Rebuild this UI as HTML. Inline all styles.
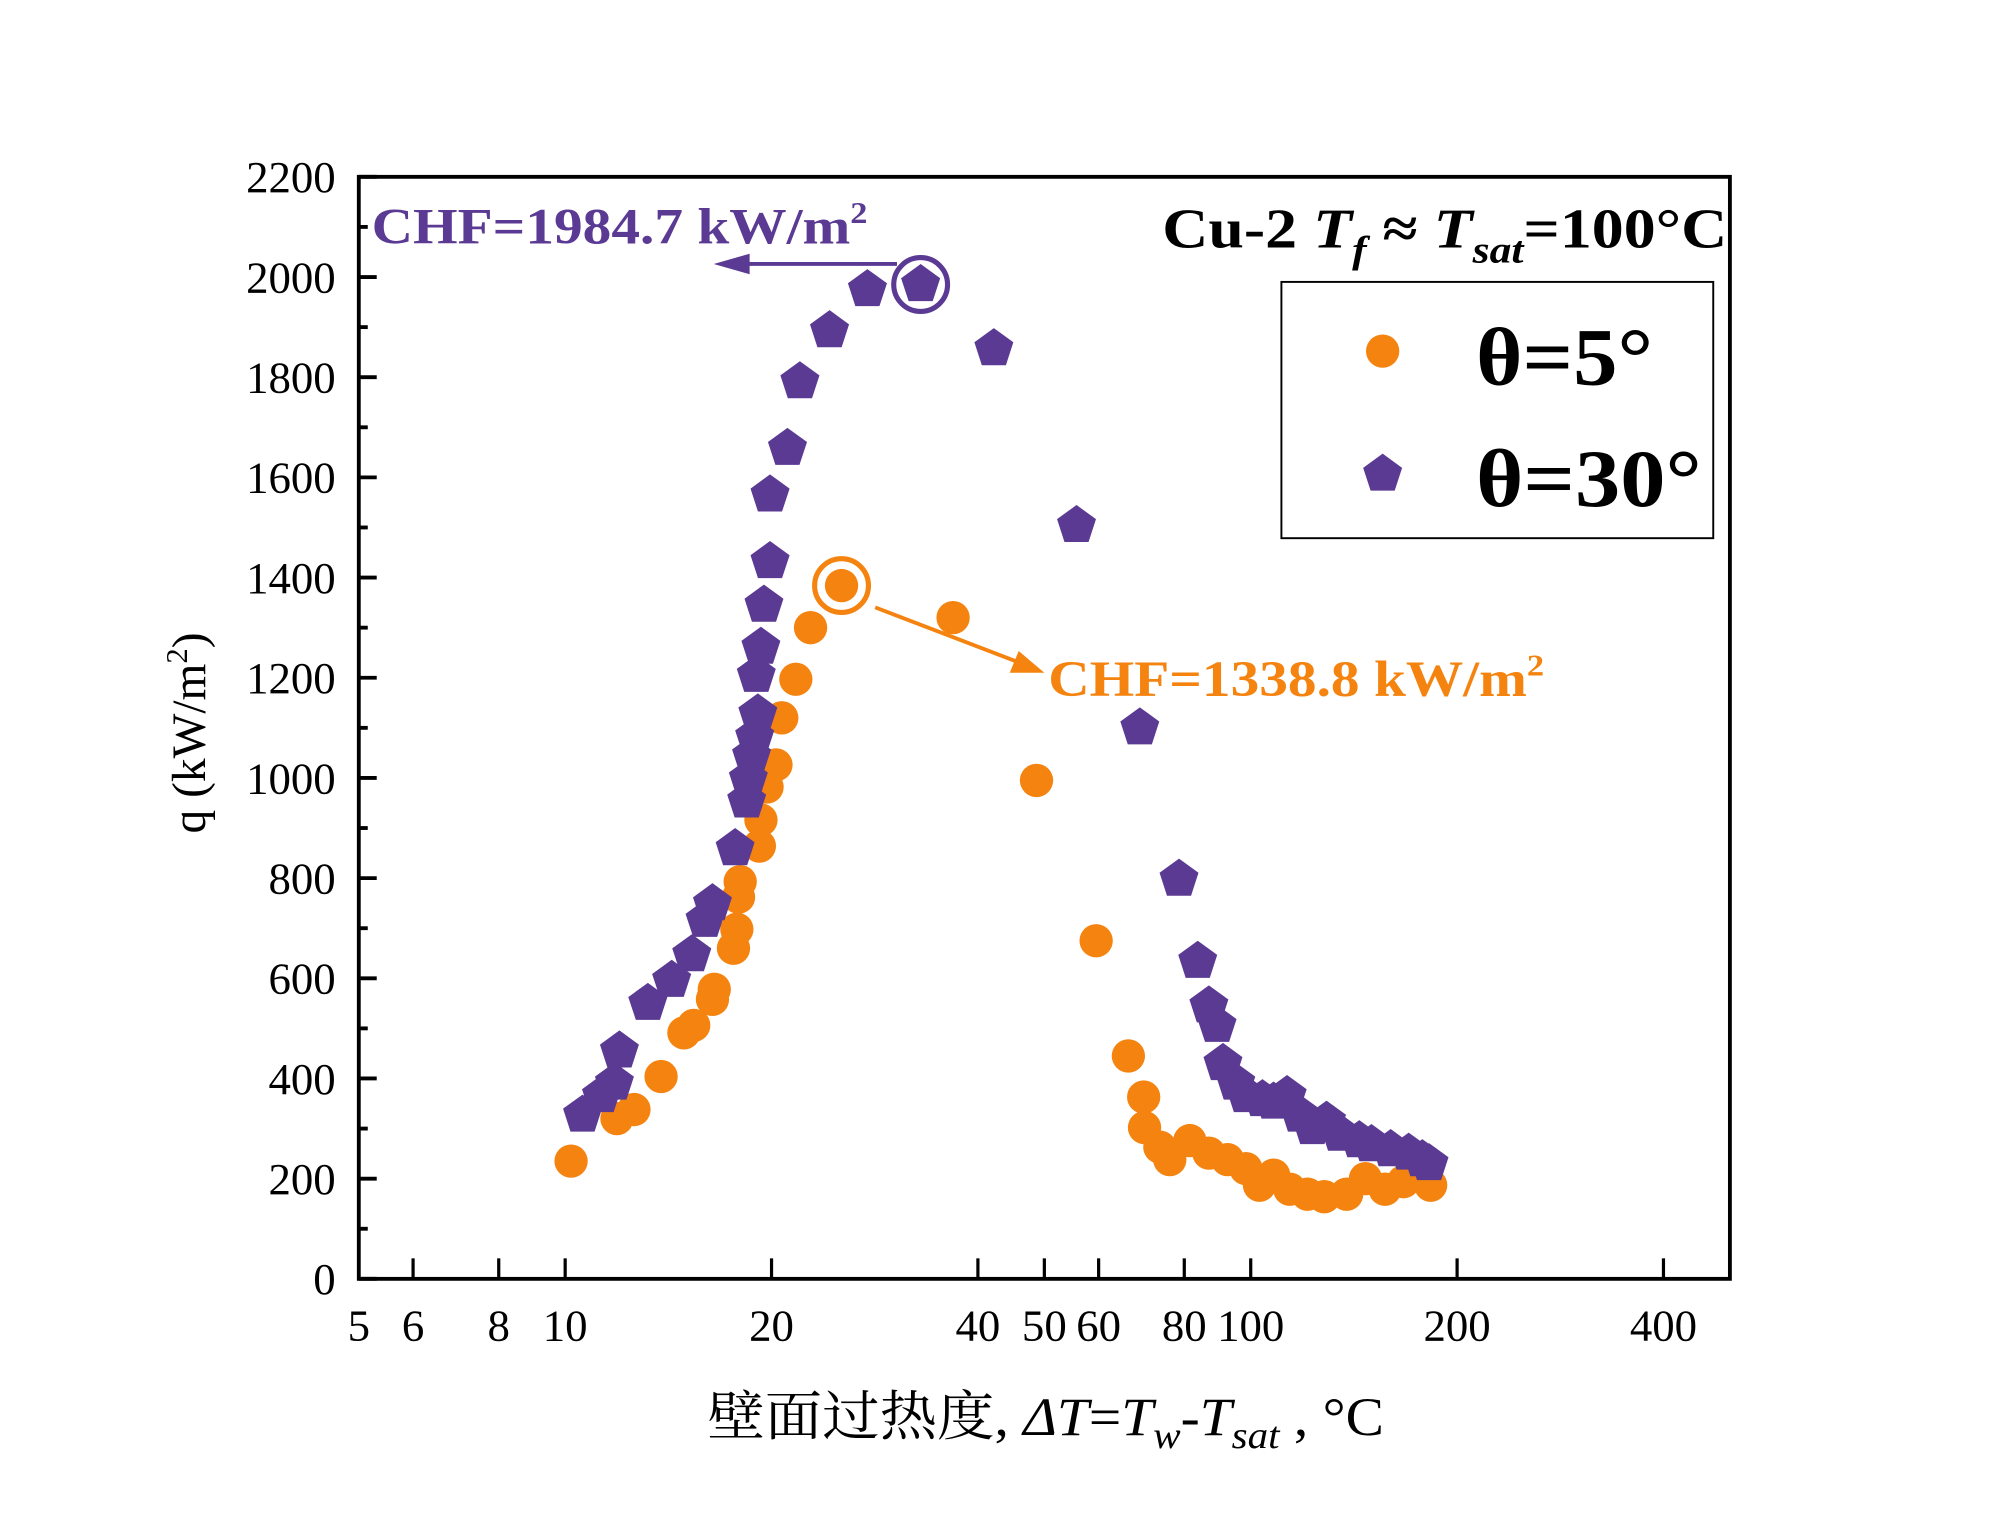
<!DOCTYPE html>
<html><head><meta charset="utf-8"><style>body{margin:0;background:#fff}svg{display:block}</style></head>
<body>
<svg id="chart" width="1999" height="1530" viewBox="0 0 1560 1194" preserveAspectRatio="none" xmlns="http://www.w3.org/2000/svg" font-family="'Liberation Serif','Noto Serif CJK SC',serif">
<g id="axes"></g>
<g id="marks"></g>
<g>
  <text x="290" y="190" font-size="40" font-weight="bold" fill="#5b3a94" textLength="387" lengthAdjust="spacingAndGlyphs">CHF=1984.7 kW/m<tspan dy="-16" font-size="24">2</tspan></text>
  <line x1="700" y1="206" x2="575" y2="206" stroke="#5b3a94" stroke-width="3"/>
  <polygon points="557,206 585,198 585,214" fill="#5b3a94"/>
  <text x="818" y="543" font-size="40" font-weight="bold" fill="#f5830f" textLength="387" lengthAdjust="spacingAndGlyphs">CHF=1338.8 kW/m<tspan dy="-16" font-size="24">2</tspan></text>
  <line x1="683" y1="474" x2="798" y2="518" stroke="#f5830f" stroke-width="3"/>
  <polygon points="815,525 788,525 795,508" fill="#f5830f"/>
  <text x="907" y="193" font-size="44" font-weight="bold" textLength="441" lengthAdjust="spacingAndGlyphs">Cu-2  <tspan font-style="italic">T</tspan><tspan font-style="italic" font-size="30" dy="12">f</tspan><tspan dy="-12"> ≈ </tspan><tspan font-style="italic">T</tspan><tspan font-style="italic" font-size="30" dy="12">sat</tspan><tspan dy="-12">=100°C</tspan></text>
  <rect x="1000" y="220" width="337" height="200" fill="#fff" stroke="#000" stroke-width="1.5"/>
  <circle cx="1079" cy="274" r="13" fill="#f5830f"/>
  <text x="1152" y="300" font-size="64" font-weight="bold" textLength="138" lengthAdjust="spacingAndGlyphs">θ=5°</text>
  <polygon id="legPent" fill="#5b3a94"/>
  <text x="1152" y="395" font-size="64" font-weight="bold" textLength="176" lengthAdjust="spacingAndGlyphs">θ=30°</text>
  <text transform="translate(160,572) rotate(-90)" text-anchor="middle" font-size="37">q (kW/m<tspan dy="-14" font-size="24">2</tspan><tspan dy="14">)</tspan></text>
  <text x="552" y="1120" font-size="42" textLength="528" lengthAdjust="spacingAndGlyphs">壁面过热度, <tspan font-style="italic">ΔT</tspan>=<tspan font-style="italic">T</tspan><tspan font-style="italic" font-size="30" dy="10">w</tspan><tspan dy="-10">-</tspan><tspan font-style="italic">T</tspan><tspan font-style="italic" font-size="30" dy="10">sat</tspan><tspan dy="-10"> , °C</tspan></text>
</g>
<script>
const xTicks=[5,6,8,10,20,40,50,60,80,100,200,400];
const yTicks=[0,200,400,600,800,1000,1200,1400,1600,1800,2000,2200];
const dt5=[10.2,11.9,12.6,13.8,14.9,15.4,16.4,16.5,17.6,17.8,17.9,18.0,19.2,19.3,19.7,20.3,20.7,21.7,22.8,25.3,36.8,48.7,59.5,66.3,69.8,70.0,73.7,76.2,81.5,86.9,92.5,98.4,103,108,114,121,128,138,147,157,167,183];
const q5=[235,320,338,404,491,506,558,578,660,698,762,793,864,916,982,1026,1120,1197,1300,1384,1320,995,675,445,363,302,263,238,276,251,238,220,187,207,179,169,164,169,200,179,194,187];
const dt30=[10.6,11.3,11.8,12.0,13.2,14.3,15.3,16.0,16.4,17.7,18.4,18.5,18.7,18.9,19.1,19.0,19.3,19.5,19.9,19.9,21.1,22.0,24.3,27.6,33.0,42.2,55.7,68.9,78.6,83.7,86.9,89.3,91.1,95.1,98.4,104,108,113,118,123,129,135,144,150,160,170,178,182];
const q30=[327,366,391,455,550,596,647,716,749,859,954,998,1044,1082,1128,1205,1261,1345,1432,1565,1658,1791,1893,1975,1985,1857,1504,1100,798,634,545,506,430,391,366,358,353,366,327,302,315,289,276,268,258,251,238,230];
const chf5Index=19, chf30Index=24;
const L=280,R=1350,T=138,B=998;
const X=v=>L+535*Math.log10(v/5);
const Y=v=>B-(B-T)*v/2200;
const NS='http://www.w3.org/2000/svg';
function mk(tag,attrs,parent){const e=document.createElementNS(NS,tag);for(const k in attrs)e.setAttribute(k,attrs[k]);parent.appendChild(e);return e;}
function pent(cx,cy,r){let p=[];for(let i=0;i<5;i++){const a=-Math.PI/2+i*2*Math.PI/5;p.push((cx+r*Math.cos(a)).toFixed(1)+','+(cy+r*Math.sin(a)).toFixed(1));}return p.join(' ');}
const ax=document.getElementById('axes');
const frame=mk('rect',{x:L,y:T,width:R-L,height:B-T,fill:'none',stroke:'#000','stroke-width':3},ax);


yTicks.forEach(v=>{
  const t=mk('line',{x1:L,x2:L+14,y1:Y(v),y2:Y(v),stroke:'#000','stroke-width':3},ax);
  
  
  if(v<2200){const m=mk('line',{x1:L,x2:L+7,y1:Y(v+100),y2:Y(v+100),stroke:'#000','stroke-width':3},ax);
  
  }
  const l=mk('text',{x:262,y:Y(v)+12,'text-anchor':'end','font-size':35},ax);l.textContent=v;
  
  
});
xTicks.forEach(v=>{
  const t=mk('line',{x1:X(v),x2:X(v),y1:B,y2:B-16,stroke:'#000','stroke-width':2.5},ax);
  
  
  const l=mk('text',{x:X(v),y:1046,'text-anchor':'middle','font-size':35},ax);l.textContent=v;
  
  
});
const mg=document.getElementById('marks');
dt5.forEach((d,i)=>{
  const c=mk('circle',{cx:X(d),cy:Y(q5[i]),r:13,fill:'#f5830f'},mg);
  
  
});
dt30.forEach((d,i)=>{
  const p=mk('polygon',{points:pent(X(d),Y(q30[i]),16),fill:'#5b3a94'},mg);
  
  
});
const r5=mk('circle',{cx:X(dt5[chf5Index]),cy:Y(q5[chf5Index]),r:21,fill:'none',stroke:'#f5830f','stroke-width':4},mg);


const r30=mk('circle',{cx:X(dt30[chf30Index]),cy:Y(q30[chf30Index]),r:21,fill:'none',stroke:'#5b3a94','stroke-width':4},mg);


document.getElementById('legPent').setAttribute('points',pent(1079,370,16));
</script>
</svg>
</body></html>
